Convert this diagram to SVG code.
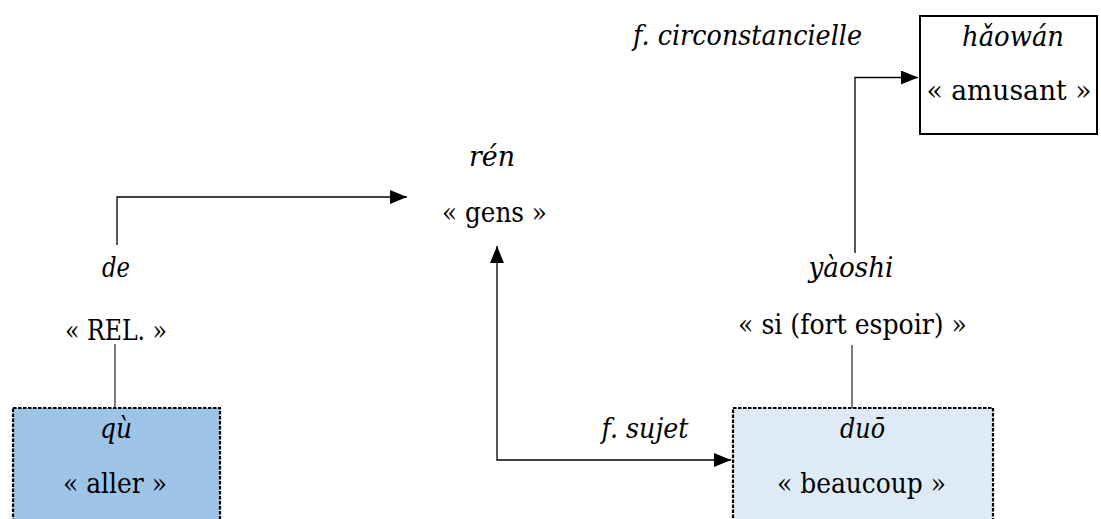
<svg xmlns="http://www.w3.org/2000/svg" width="1101" height="519" viewBox="0 0 1101 519">
  <defs>
    <style>
      text { font-family: "DejaVu Serif", serif; font-size: 28px; fill: #000; text-anchor: middle; }
      .it { font-style: italic; }
      .conn { fill: none; stroke: #000; stroke-width: 1.3; }
      .plain { fill: none; stroke: #333; stroke-width: 1.3; }
      .dash { stroke: #000; stroke-width: 2.2; stroke-dasharray: 3.5 1.5; }
    </style>
    <marker id="arr" markerUnits="userSpaceOnUse" markerWidth="17" markerHeight="14" refX="17" refY="7" orient="auto-start-reverse">
      <path d="M0,0 L17,7 L0,14 z" fill="#000"/>
    </marker>
  </defs>
  <rect width="1101" height="519" fill="#fff"/>

  <g id="connectors">
    <path class="conn" d="M117,245 V197 H407" marker-end="url(#arr)"/>
    <path class="conn" d="M497,246 V460 H731" marker-start="url(#arr)" marker-end="url(#arr)"/>
    <path class="conn" d="M855,253 V77.5 H918" marker-end="url(#arr)"/>
    <path class="plain" d="M115,344 V408"/>
    <path class="plain" d="M852,345 V408"/>
  </g>

  <g id="label-f-circ">
    <text class="it" x="747.5" y="45" textLength="229" lengthAdjust="spacingAndGlyphs">f. circonstancielle</text>
  </g>
  <g id="label-f-sujet">
    <text class="it" x="645" y="438" textLength="87" lengthAdjust="spacingAndGlyphs">f. sujet</text>
  </g>

  <g id="node-haowan">
    <rect x="920" y="16" width="177" height="118" fill="#fff" stroke="#000" stroke-width="2"/>
    <text class="it" x="1013" y="46" textLength="102" lengthAdjust="spacingAndGlyphs">hǎowán</text>
    <text x="1009" y="100" textLength="165" lengthAdjust="spacingAndGlyphs">« amusant »</text>
  </g>

  <g id="node-ren">
    <text class="it" x="492" y="166" textLength="46" lengthAdjust="spacingAndGlyphs">rén</text>
    <text x="494.5" y="222" textLength="105" lengthAdjust="spacingAndGlyphs">« gens »</text>
  </g>

  <g id="node-de">
    <text class="it" x="116" y="277" textLength="28" lengthAdjust="spacingAndGlyphs">de</text>
    <text x="116" y="340" textLength="102" lengthAdjust="spacingAndGlyphs">« REL. »</text>
  </g>

  <g id="node-yaoshi">
    <text class="it" x="851" y="277" textLength="85" lengthAdjust="spacingAndGlyphs">yàoshi</text>
    <text x="852.5" y="334" textLength="229" lengthAdjust="spacingAndGlyphs">« si (fort espoir) »</text>
  </g>

  <g id="node-qu">
    <rect class="dash" x="13" y="408" width="207" height="120" fill="#9DC3E6"/>
    <text class="it" x="116" y="438" textLength="32" lengthAdjust="spacingAndGlyphs">qù</text>
    <text x="115" y="493" textLength="104" lengthAdjust="spacingAndGlyphs">« aller »</text>
  </g>

  <g id="node-duo">
    <rect class="dash" x="733" y="408" width="260" height="120" fill="#DEEBF7"/>
    <text class="it" x="862.5" y="438" textLength="45" lengthAdjust="spacingAndGlyphs">duō</text>
    <text x="861.5" y="493" textLength="169" lengthAdjust="spacingAndGlyphs">« beaucoup »</text>
  </g>
</svg>
